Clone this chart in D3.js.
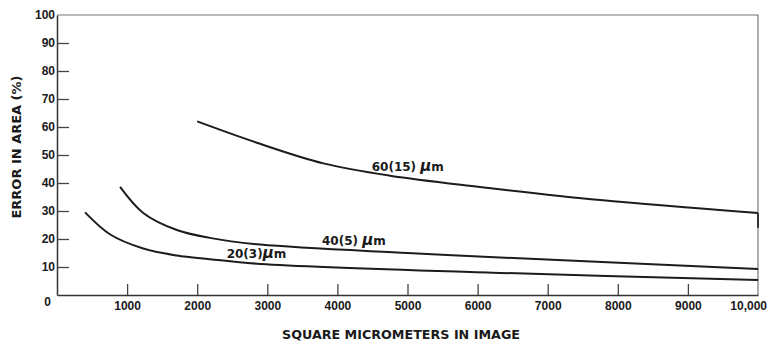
<!DOCTYPE html>
<html>
<head>
<meta charset="utf-8">
<script src="https://cdn.jsdelivr.net/npm/d3@7"></script>
<style>
  body { margin: 0; background: #fff; }
  svg { display: block; font-family: 'DejaVu Sans', sans-serif; }
  .tick text { font-weight: bold; fill: #1a1a1a; }
</style>
</head>
<body>
<svg id="chart" width="767" height="345"></svg>
<script>
// readings
const xTicks = [1000, 2000, 3000, 4000, 5000, 6000, 7000, 8000, 9000];
const yTicks = [0, 10, 20, 30, 40, 50, 60, 70, 80, 90, 100];

const area60 = [2000, 2850, 3800, 4750, 6030, 7750, 10000];
const err60 = [62.0, 54.4, 47.0, 42.6, 38.6, 33.9, 29.3];

const area40 = [900, 1230, 1710, 2180, 2900, 5000, 6320, 10000];
const err40 = [38.6, 29.3, 23.2, 20.4, 18.0, 15.0, 13.4, 9.3];

const area20 = [400, 760, 1230, 1710, 2180, 2900, 6320, 10000];
const err20 = [29.5, 21.6, 16.6, 14.1, 12.8, 11.1, 7.9, 5.4];

const curveLabels = [
  { num: '60(15) ', x: 4490, y: 44.2 },
  { num: '40(5) ', x: 3780, y: 17.7 },
  { num: '20(3)', x: 2420, y: 13.3 }
];

const width = 767, height = 345;
const margin = { top: 15, right: 9, bottom: 50, left: 57 };

const svg = d3.select('#chart');

const xScale = d3.scaleLinear().domain([0, 10000]).range([margin.left, width - margin.right]);
const yScale = d3.scaleLinear().domain([0, 100]).range([height - margin.bottom, margin.top]);

// frame (top + right)
svg.append('path')
  .attr('d', `M${xScale(0)},${yScale(100)}H${xScale(10000)}V${yScale(0)}`)
  .attr('fill', 'none')
  .attr('stroke', '#777')
  .attr('stroke-width', 1.2);

// Add X axis
const xAxis = svg.append('g')
  .attr('transform', `translate(0,${yScale(0)})`)
  .call(d3.axisBottom(xScale).tickValues(xTicks).tickSize(-11).tickPadding(6).tickSizeOuter(0)
    .tickFormat(d3.format('d')));
xAxis.select('.domain').attr('stroke', '#333').attr('stroke-width', 1.5);
xAxis.selectAll('.tick line').attr('stroke', '#444').attr('stroke-width', 1.3);
xAxis.selectAll('.tick text').style('font-size', '12px');
xAxis.append('text')
  .attr('x', xScale(10000) + 9)
  .attr('y', 6)
  .attr('dy', '0.71em')
  .attr('text-anchor', 'end')
  .attr('fill', '#1a1a1a')
  .style('font-size', '12px')
  .style('font-weight', 'bold')
  .text('10,000');

// Add Y axis
const yAxis = svg.append('g')
  .attr('transform', `translate(${xScale(0)},0)`)
  .call(d3.axisLeft(yScale).tickValues(yTicks).tickSize(-12).tickPadding(2).tickSizeOuter(0));
yAxis.select('.domain').attr('stroke', '#333').attr('stroke-width', 1.5);
yAxis.selectAll('.tick line').attr('stroke', '#444').attr('stroke-width', 1.3)
  .filter((d) => d == 0 || d == 100).remove();
yAxis.selectAll('.tick text').style('font-size', '12px')
  .attr('dy', (d) => (d == 0 ? '0.9em' : '0.32em'))
  .attr('x', (d) => (d == 0 ? -6 : -2));

// axis titles
svg.append('text')
  .attr('x', 401)
  .attr('y', 339)
  .attr('text-anchor', 'middle')
  .attr('textLength', 238)
  .attr('lengthAdjust', 'spacingAndGlyphs')
  .attr('fill', '#1a1a1a')
  .style('font-size', '12px')
  .style('font-weight', 'bold')
  .text('SQUARE MICROMETERS IN IMAGE');

svg.append('text')
  .attr('transform', 'translate(21,147) rotate(-90)')
  .attr('text-anchor', 'middle')
  .attr('textLength', 143)
  .attr('lengthAdjust', 'spacingAndGlyphs')
  .attr('fill', '#1a1a1a')
  .style('font-size', '12px')
  .style('font-weight', 'bold')
  .text('ERROR IN AREA (%)');

// curves
const line = d3.line()
  .x((d) => xScale(d[0]))
  .y((d) => yScale(d[1]))
  .curve(d3.curveCatmullRom.alpha(0.5));

const series = [d3.zip(area60, err60), d3.zip(area40, err40), d3.zip(area20, err20)];
svg.append('g')
  .selectAll('path')
  .data(series)
  .enter()
  .append('path')
  .attr('d', line)
  .attr('fill', 'none')
  .attr('stroke', '#1c1c1c')
  .attr('stroke-width', 2);

// short dark piece on the right edge under the 60 curve
svg.append('line')
  .attr('x1', xScale(10000)).attr('x2', xScale(10000))
  .attr('y1', yScale(err60[err60.length - 1])).attr('y2', yScale(24))
  .attr('stroke', '#333').attr('stroke-width', 2);

// curve labels
const labels = svg.append('g')
  .selectAll('text')
  .data(curveLabels)
  .enter()
  .append('text')
  .attr('x', (d) => xScale(d.x))
  .attr('y', (d) => yScale(d.y))
  .attr('fill', '#1a1a1a')
  .style('font-size', '12px')
  .style('font-weight', 'bold');
labels.append('tspan').text((d) => d.num);
labels.append('tspan').style('font-style', 'italic').style('font-size', '15px').text('\u03bc');
labels.append('tspan').text('m');
</script>
</body>
</html>
